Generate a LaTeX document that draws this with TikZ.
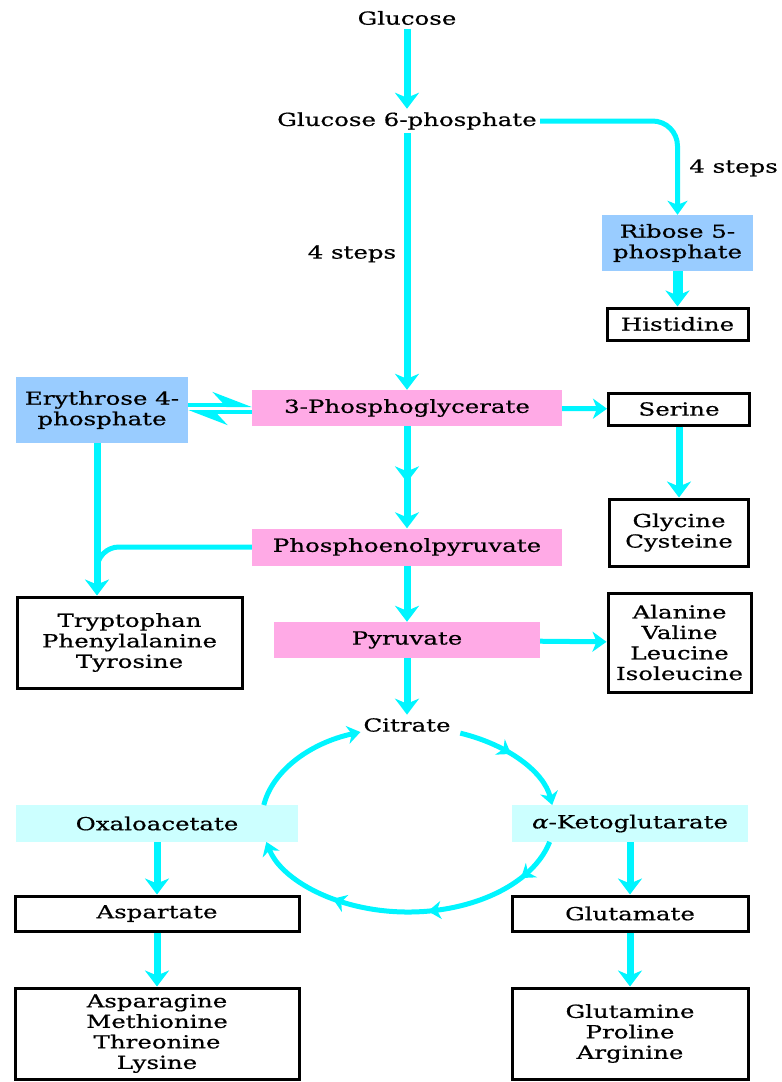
\documentclass[tikz,border=0pt]{standalone}
\usepackage{fontspec}
\setmainfont{DejaVu Serif}[FakeStretch=1.36, FakeBold=0.6]
\usetikzlibrary{arrows.meta,decorations.markings}

\definecolor{flowcyan}{RGB}{0,245,255}
\definecolor{pgpink}{RGB}{255,170,230}
\definecolor{sugarblue}{RGB}{153,204,255}
\definecolor{tcacyan}{RGB}{204,255,255}

\begin{document}
\begin{tikzpicture}[x=1pt, y=1pt,
  font=\fontsize{18}{20.5}\selectfont,
  bigtip/.tip={Stealth[length=16pt, width=24pt, inset=5pt]},
  cyctip/.tip={Stealth[length=13pt, width=18pt, inset=4pt]},
  harptip/.tip={Stealth[harpoon, length=34pt, width=26pt, inset=12pt]},
  flow/.style={flowcyan, line width=7pt, -bigtip},
  thinflow/.style={flowcyan, line width=5pt, -{Stealth[length=14pt, width=20pt, inset=4pt]}},
  cycflow/.style={flowcyan, line width=5pt, -cyctip},
  midarrow/.style={postaction={decorate}, decoration={markings, mark=at position #1 with {\arrow{bigtip}}}},
  pinkbox/.style={fill=pgpink, inner sep=0pt, minimum height=36pt, align=center},
  bluebox/.style={fill=sugarblue, inner sep=0pt, align=center},
  tcabox/.style={fill=tcacyan, inner sep=0pt, minimum height=37pt, align=center},
  aabox/.style={draw, line width=3pt, fill=white, inner sep=0pt, align=center}
]
  \useasboundingbox (0,0) rectangle (782,-1082);

  % Sugars and glycolysis
  \node (glc) at (407,-18) {Glucose};
  \node (g6p) at (407,-121) {Glucose 6-phosphate};
  \node (r5p) at (677.5,-243) [bluebox, minimum width=151pt, minimum height=56pt] {Ribose 5-\\phosphate};
  \node (his) at (677.5,-324) [aabox, minimum width=141pt, minimum height=32pt] {Histidine};
  \node (e4p) at (102,-410) [bluebox, minimum width=172pt, minimum height=66pt] {Erythrose 4-\\phosphate};
  \node (pga) at (407,-408) [pinkbox, minimum width=310pt] {3-Phosphoglycerate};
  \node (ser) at (679,-409) [aabox, minimum width=141pt, minimum height=32pt] {Serine};
  \node (glycys) at (679,-532.5) [aabox, minimum width=139pt, minimum height=67pt] {Glycine\\Cysteine};
  \node (pep) at (407,-547) [pinkbox, minimum width=310pt, minimum height=37pt] {Phosphoenolpyruvate};
  \node (trp) at (129.5,-642.5) [aabox, minimum width=225pt, minimum height=91pt] {Tryptophan\\Phenylalanine\\Tyrosine};
  \node (pyr) at (407,-640) [pinkbox, minimum width=266pt] {Pyruvate};
  \node (ala) at (679.5,-642.5) [aabox, minimum width=143pt, minimum height=99pt] {Alanine\\Valine\\Leucine\\Isoleucine};

  % Citric acid cycle
  \node (cit) at (407,-725) {Citrate};
  \node (oaa) at (157,-823.5) [tcabox, minimum width=282pt] {Oxaloacetate};
  \node (akg) at (630,-823.5) [tcabox, minimum width=236pt] {\textit{α}-Ketoglutarate};
  \node (asp) at (157,-913.5) [aabox, minimum width=284pt, minimum height=35pt] {Aspartate};
  \node (glu) at (630,-913.5) [aabox, minimum width=236pt, minimum height=35pt] {Glutamate};
  \node (asn) at (157,-1033.5) [aabox, minimum width=284pt, minimum height=91pt] {Asparagine\\Methionine\\Threonine\\Lysine};
  \node (gln) at (630,-1033.5) [aabox, minimum width=236pt, minimum height=91pt] {Glutamine\\Proline\\Arginine};

  % Arrows
  \draw[flow] (glc) -- (g6p);
  \draw[flow] (g6p) -- (pga) node[pos=0.47, left=4pt, text=black] {4 steps};
  \draw[thinflow, rounded corners=25pt] (g6p.east) -| (r5p.north) node[pos=0.75, right=6pt, text=black] {4 steps};
  \draw[flow, line width=10pt] (r5p) -- (his);
  \draw[flowcyan, line width=4pt, -harptip] ([yshift=5pt]e4p.east) -- ([yshift=5pt]e4p.east -| pga.west);
  \draw[flowcyan, line width=4pt, -harptip] ([yshift=-4pt]pga.west) -- ([yshift=-4pt]pga.west -| e4p.east);
  \draw[thinflow] (pga) -- (ser);
  \draw[flow] (ser) -- (glycys);
  \draw[flow, midarrow=0.55] (pga) -- (pep);
  \draw[flow] ([xshift=-5pt]e4p.south) -- ([xshift=-32.5pt]trp.north);
  \draw[flowcyan, line width=5pt, rounded corners=22pt] (pep.west) -| ([xshift=-32.5pt, yshift=14pt]trp.north);
  \draw[flow] (pep) -- (pyr);
  \draw[thinflow] (pyr) -- (ala);
  \draw[flow] (pyr) -- (cit);
  \draw[flow] (oaa) -- (asp);
  \draw[flow] (asp) -- (asn);
  \draw[flow] (akg) -- (glu);
  \draw[flow] (glu) -- (gln);

  % Cycle arcs
  \coordinate (tca) at (408,-819.5);
  \draw[cycflow, postaction={decorate}, decoration={markings, mark=at position 0.45 with {\arrow{cyctip}}}]
    (tca) ++(69:146pt and 92.5pt) arc[start angle=69, end angle=9, x radius=146pt, y radius=92.5pt];
  \draw[cycflow, postaction={decorate}, decoration={markings,
      mark=at position 0.14 with {\arrow{cyctip}},
      mark=at position 0.44 with {\arrow{cyctip}},
      mark=at position 0.73 with {\arrow{cyctip}}}]
    (tca) ++(-14:146pt and 92.5pt) arc[start angle=-14, end angle=-166, x radius=146pt, y radius=92.5pt];
  \draw[cycflow] (tca) ++(171:146pt and 92.5pt) arc[start angle=171, end angle=109, x radius=146pt, y radius=92.5pt];

\end{tikzpicture}
\end{document}
